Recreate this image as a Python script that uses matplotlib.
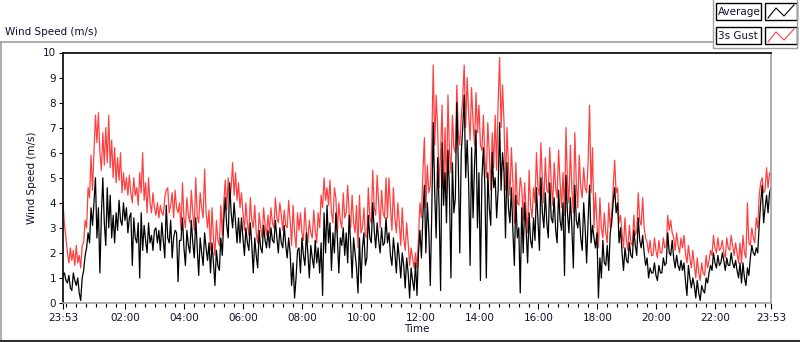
import matplotlib
matplotlib.use("Agg")
import matplotlib.pyplot as plt
import numpy as np
from matplotlib.patches import Rectangle

# ---------------- data (3-minute samples, minutes since 23:53; one row per hour) ----------------
gust_hourly = [
    [4.0, 3.1, 2.6, 2.0, 1.6, 2.2, 1.7, 2.1, 1.5, 2.3, 1.6, 1.9, 1.4, 2.3, 2.4, 3.3, 3.0, 4.6, 4.2, 5.9],
    [4.5, 6.0, 7.5, 6.4, 7.6, 6.0, 5.3, 6.8, 5.5, 7.0, 5.6, 7.5, 5.4, 6.5, 5.0, 6.2, 4.8, 5.8, 4.9, 6.0],
    [4.4, 5.2, 4.5, 5.0, 4.3, 5.1, 4.4, 4.0, 5.0, 4.3, 4.6, 3.9, 5.2, 4.4, 6.0, 4.1, 4.8, 3.6, 5.0, 4.0],
    [3.6, 4.4, 3.8, 3.5, 4.0, 3.4, 3.9, 3.6, 3.5, 4.2, 4.5, 4.6, 3.6, 3.9, 4.4, 3.4, 4.5, 3.8, 3.6, 4.0],
    [2.9, 4.8, 3.4, 3.0, 4.2, 3.5, 3.2, 4.5, 3.6, 2.9, 5.0, 3.5, 3.2, 4.4, 3.8, 3.4, 5.35, 3.6, 3.0, 3.7],
    [2.1, 3.8, 2.6, 1.9, 3.3, 2.5, 2.3, 3.9, 2.7, 4.0, 4.9, 3.7, 5.0, 4.0, 4.6, 5.6, 4.3, 5.2, 4.1, 4.8],
    [3.8, 4.4, 3.6, 2.9, 4.0, 3.2, 2.7, 4.2, 3.3, 3.0, 3.9, 2.8, 2.4, 3.6, 3.0, 2.6, 3.8, 3.1, 2.7, 3.5],
    [2.8, 3.8, 3.2, 3.0, 4.2, 3.4, 3.2, 4.0, 3.5, 2.9, 3.7, 3.1, 3.0, 4.1, 3.3, 2.3, 3.9, 2.8, 2.2, 3.6],
    [2.9, 3.6, 2.8, 2.5, 3.8, 2.9, 2.4, 3.3, 2.8, 2.6, 3.7, 2.9, 2.4, 3.6, 3.0, 4.3, 3.8, 5.0, 4.1, 4.6],
    [3.9, 4.9, 3.6, 3.2, 4.6, 4.2, 2.8, 4.0, 3.3, 3.0, 4.4, 3.4, 3.6, 4.7, 3.6, 3.0, 4.3, 3.2, 2.8, 3.9],
    [2.2, 4.3, 2.8, 3.0, 3.8, 2.7, 2.6, 4.6, 3.4, 3.2, 5.3, 3.8, 3.5, 5.1, 4.0, 3.0, 4.5, 3.6, 3.4, 5.0],
    [3.4, 5.0, 3.8, 2.9, 4.6, 3.4, 2.8, 4.0, 3.2, 2.3, 3.8, 2.6, 2.1, 3.2, 2.4, 1.5, 2.2, 1.8, 1.4, 2.0],
    [1.4, 2.6, 4.0, 3.4, 5.2, 6.6, 3.8, 5.5, 4.4, 4.7, 6.3, 9.5, 6.3, 8.3, 7.0, 4.6, 6.0, 7.9, 4.4, 7.0],
    [4.4, 8.3, 6.0, 5.2, 7.5, 6.2, 6.0, 8.7, 6.8, 6.3, 7.4, 8.2, 9.5, 7.0, 9.0, 7.6, 6.5, 8.6, 7.2, 6.3],
    [8.4, 6.8, 7.9, 6.3, 6.1, 7.5, 5.8, 5.0, 7.2, 6.0, 4.5, 6.8, 5.4, 7.5, 5.3, 8.0, 9.8, 7.0, 8.7, 7.2],
    [4.5, 7.0, 5.4, 4.3, 6.2, 4.8, 3.2, 5.6, 4.0, 3.9, 5.0, 4.6, 3.3, 4.8, 3.6, 2.8, 5.3, 3.9, 3.4, 4.6],
    [4.0, 6.0, 4.6, 4.3, 6.4, 4.9, 4.0, 5.8, 4.5, 4.4, 6.2, 4.8, 3.9, 5.6, 4.6, 4.2, 6.1, 4.8, 3.8, 5.2],
    [3.5, 7.0, 4.8, 4.0, 6.3, 4.5, 3.6, 6.8, 4.8, 3.8, 5.9, 4.6, 4.2, 5.4, 4.6, 4.4, 5.6, 7.9, 4.4, 6.2],
    [3.0, 4.4, 3.2, 2.2, 4.2, 3.0, 2.6, 3.6, 2.8, 2.4, 4.0, 3.0, 3.6, 4.6, 5.7, 4.4, 4.6, 3.2, 3.5, 2.8],
    [2.2, 3.4, 2.5, 2.1, 3.1, 2.4, 2.3, 3.5, 2.7, 2.9, 4.4, 3.3, 3.1, 4.2, 3.0, 2.6, 2.4, 2.0, 2.5, 1.9],
    [1.9, 2.6, 2.1, 1.8, 2.5, 2.0, 2.0, 2.6, 2.2, 2.3, 3.5, 2.9, 3.3, 2.8, 2.6, 2.1, 2.8, 2.3, 2.0, 2.6],
    [2.2, 2.7, 2.0, 1.6, 2.3, 1.8, 1.4, 2.1, 1.5, 1.0, 1.8, 1.2, 0.9, 1.6, 1.2, 1.1, 1.9, 1.4, 1.7, 2.1],
    [1.9, 2.7, 2.2, 2.0, 2.6, 2.1, 2.2, 2.5, 2.0, 1.8, 2.6, 2.2, 2.1, 2.7, 2.3, 1.9, 2.4, 2.0, 1.6, 2.4],
    [1.6, 2.7, 2.0, 1.8, 4.0, 2.4, 2.3, 3.0, 2.6, 2.4, 3.4, 3.0, 4.3, 4.8, 5.0, 4.4, 4.5, 5.4, 4.6, 5.2],
]
gust_last = 5.1

avg_hourly = [
    [1.1, 1.2, 0.9, 0.8, 1.1, 0.6, 0.5, 1.2, 0.9, 0.7, 1.0, 0.4, 0.1, 1.0, 1.3, 1.9, 2.2, 2.8, 2.4, 3.8],
    [3.1, 4.0, 5.0, 2.6, 3.8, 1.2, 3.5, 5.0, 3.2, 2.3, 4.6, 3.0, 4.3, 2.6, 3.5, 2.4, 3.6, 2.9, 4.1, 3.3],
    [3.1, 4.0, 3.3, 3.8, 2.8, 3.4, 3.6, 1.5, 3.4, 2.6, 2.4, 3.2, 1.0, 3.6, 2.1, 3.1, 2.5, 2.0, 3.2, 2.4],
    [2.7, 2.1, 2.9, 3.0, 2.4, 2.9, 2.1, 3.2, 2.5, 1.8, 3.9, 2.6, 2.4, 3.3, 1.8, 2.6, 2.9, 2.8, 0.85, 2.5],
    [2.5, 3.4, 2.2, 1.5, 2.9, 2.3, 2.0, 3.3, 2.4, 1.8, 3.4, 2.2, 1.1, 2.6, 2.0, 1.5, 2.8, 2.2, 1.7, 2.4],
    [1.2, 2.4, 1.6, 0.7, 2.1, 1.5, 1.3, 2.6, 1.9, 3.3, 4.2, 3.1, 2.6, 4.8, 3.6, 3.0, 4.0, 3.2, 2.4, 3.4],
    [2.4, 3.4, 2.6, 1.9, 3.0, 2.4, 2.1, 3.2, 2.3, 1.2, 2.6, 1.9, 1.4, 2.9, 2.2, 2.0, 3.1, 2.5, 2.2, 2.9],
    [2.2, 3.0, 2.5, 2.4, 3.3, 2.6, 2.0, 3.0, 2.4, 2.2, 3.1, 2.3, 1.8, 2.6, 2.0, 0.7, 1.6, 0.2, 1.0, 2.1],
    [2.2, 1.2, 2.6, 1.9, 1.5, 2.8, 2.0, 1.0, 2.3, 1.8, 1.4, 2.5, 1.6, 2.2, 1.2, 2.4, 0.3, 3.6, 2.0, 3.9],
    [2.4, 3.2, 1.3, 2.8, 2.0, 3.6, 2.6, 1.2, 2.6, 2.3, 3.0, 1.9, 2.8, 1.6, 3.5, 2.4, 1.0, 2.6, 2.0, 1.4],
    [0.4, 2.6, 0.8, 2.2, 2.8, 1.5, 1.8, 3.5, 2.6, 2.4, 4.0, 2.9, 2.2, 3.2, 2.5, 2.0, 3.0, 2.3, 2.4, 3.4],
    [2.4, 2.8, 1.9, 1.5, 2.6, 2.0, 1.2, 2.4, 1.8, 1.0, 2.0, 1.5, 0.6, 1.8, 1.2, 0.2, 1.4, 0.9, 0.5, 1.6],
    [0.3, 2.0, 2.9, 1.8, 3.5, 4.7, 2.0, 4.0, 2.9, 0.7, 3.6, 7.2, 4.4, 2.6, 5.8, 3.8, 0.5, 6.4, 3.9, 5.2],
    [3.2, 6.1, 4.5, 1.0, 5.6, 3.6, 4.2, 8.0, 5.5, 2.0, 6.0, 7.0, 8.3, 5.0, 6.5, 4.8, 1.5, 6.2, 3.4, 5.5],
    [6.9, 3.0, 5.2, 0.9, 5.0, 6.2, 4.7, 1.0, 5.2, 3.8, 3.1, 6.0, 4.6, 5.0, 3.4, 4.5, 7.2, 4.5, 6.0, 5.2],
    [2.6, 5.6, 3.8, 3.2, 4.6, 2.9, 1.5, 4.3, 2.6, 3.0, 0.4, 3.8, 2.0, 4.0, 2.9, 1.6, 3.6, 2.5, 2.2, 3.4],
    [2.5, 4.6, 3.3, 2.1, 5.0, 3.6, 3.0, 4.4, 3.2, 2.6, 4.8, 3.4, 3.2, 4.2, 2.9, 2.4, 4.5, 3.3, 2.9, 4.0],
    [1.1, 5.1, 3.6, 2.8, 4.2, 3.0, 1.4, 4.7, 3.3, 3.0, 3.6, 2.6, 2.1, 4.0, 3.0, 1.6, 3.3, 4.7, 2.4, 3.1],
    [2.6, 2.2, 2.8, 0.2, 1.8, 1.0, 2.5, 1.6, 1.5, 2.3, 1.3, 2.8, 3.2, 4.0, 4.6, 3.6, 4.0, 2.4, 3.0, 2.0],
    [1.3, 2.2, 1.7, 1.6, 2.4, 1.9, 1.8, 2.9, 2.3, 1.9, 3.4, 2.5, 2.2, 2.7, 2.0, 1.5, 1.8, 1.0, 1.4, 1.2],
    [1.2, 1.6, 1.1, 0.9, 1.5, 1.2, 1.2, 1.8, 1.5, 1.6, 2.8, 2.0, 1.9, 2.5, 1.8, 1.4, 1.9, 1.5, 1.3, 1.7],
    [1.3, 1.6, 0.9, 0.3, 1.5, 1.0, 0.6, 1.0, 0.7, 0.2, 0.9, 0.4, 0.1, 0.7, 0.5, 0.4, 1.0, 0.8, 1.2, 1.5],
    [1.3, 2.0, 1.6, 1.4, 1.9, 1.5, 1.6, 2.0, 1.7, 1.3, 1.8, 1.5, 1.5, 2.0, 1.6, 1.4, 1.7, 1.3, 1.0, 1.6],
    [0.8, 1.6, 1.0, 0.7, 1.4, 1.1, 1.8, 2.3, 2.0, 1.9, 2.2, 2.0, 3.1, 4.0, 4.7, 3.2, 3.8, 4.3, 3.6, 4.4],
]
avg_last = 4.6

step_min = 3
tick_minutes = [0, 127, 247, 367, 487, 607, 727, 847, 967, 1087, 1207, 1327, 1440]
tick_labels = ["23:53", "02:00", "04:00", "06:00", "08:00", "10:00", "12:00",
               "14:00", "16:00", "18:00", "20:00", "22:00", "23:53"]
series_names = ["Average", "3s Gust"]
series_colors = ["#000000", "#ff4040"]

# ---------------- build ----------------
gust = [v for row in gust_hourly for v in row] + [gust_last]
avg = [v for row in avg_hourly for v in row] + [avg_last]
t = np.arange(len(gust)) * step_min

W, H = 800, 342
plt.rcParams["font.family"] = ["DejaVu Sans"]
fig = plt.figure(figsize=(W / 100, H / 100), dpi=100)
fig.patch.set_facecolor("white")

def px_ax(l, t_, r, b):
    return [l / W, 1 - b / H, (r - l) / W, (b - t_) / H]

ax = fig.add_axes(px_ax(63, 52.5, 771, 303))
ax.plot(t, gust, color=series_colors[1], lw=0.9)
ax.plot(t, avg, color=series_colors[0], lw=0.9)
ax.set_xlim(0, 1440)
ax.set_ylim(0, 10)
ax.set_yticks(range(0, 11))
ax.set_xticks(tick_minutes)
ax.set_xticklabels(tick_labels)
ax.set_xticks(np.arange(7, 1440, 20), minor=True)
ax.tick_params(axis="both", which="major", labelsize=7.5, colors="#000000",
               labelcolor="#101030", length=3, width=0.8, pad=2)
ax.tick_params(axis="x", which="minor", length=3, width=0.8)
ax.tick_params(axis="x", which="major", length=4, pad=3)
for s in ["left", "top"]:
    ax.spines[s].set_color("black")
    ax.spines[s].set_linewidth(1.2)
for s in ["right", "bottom"]:
    ax.spines[s].set_color("#a0a0a0")
    ax.spines[s].set_linewidth(1.2)
ax.set_ylabel("Wind Speed (m/s)", fontsize=7.5, color="#101030", labelpad=4)
ax.set_xlabel("Time", fontsize=7.5, color="#101030", labelpad=1)

# overlay in pixel coordinates for frame / title / legend
ov = fig.add_axes([0, 0, 1, 1], zorder=5)
ov.set_xlim(0, W)
ov.set_ylim(H, 0)
ov.axis("off")
ov.patch.set_alpha(0)
gray = "#a0a0a0"
ov.plot([0.5, 713], [42, 42], color=gray, lw=1.2)
ov.plot([0.5, 0.5], [42, 341], color=gray, lw=1.2)
ov.plot([0, 800], [341, 341], color="#303030", lw=1.5)
ov.text(5, 32, "Wind Speed (m/s)", fontsize=7.5, color="#101030", va="center", ha="left")

# legend
ov.plot([713, 713, 797, 797], [0, 48, 48, 0], color=gray, lw=1.0)
rows = [(3, 20), (27, 44)]
for (y0, y1), name, col in zip(rows, series_names, series_colors):
    ov.add_patch(Rectangle((716, y0), 45, y1 - y0, fill=False, ec="black", lw=1.0))
    ov.text(718, (y0 + y1) / 2 + 0.5, name, fontsize=7.5, color="#101030", va="center", ha="left")
    ov.add_patch(Rectangle((765, y0), 32, y1 - y0, fill=False, ec="black", lw=1.0))
    xs = [768, 776, 784, 794]
    ys = [y1 - 2, y0 + 5, y1 - 4, y0 + 2]
    ov.plot(xs, ys, color=col, lw=0.8)

fig.savefig("out.png", dpi=100, facecolor="white")
